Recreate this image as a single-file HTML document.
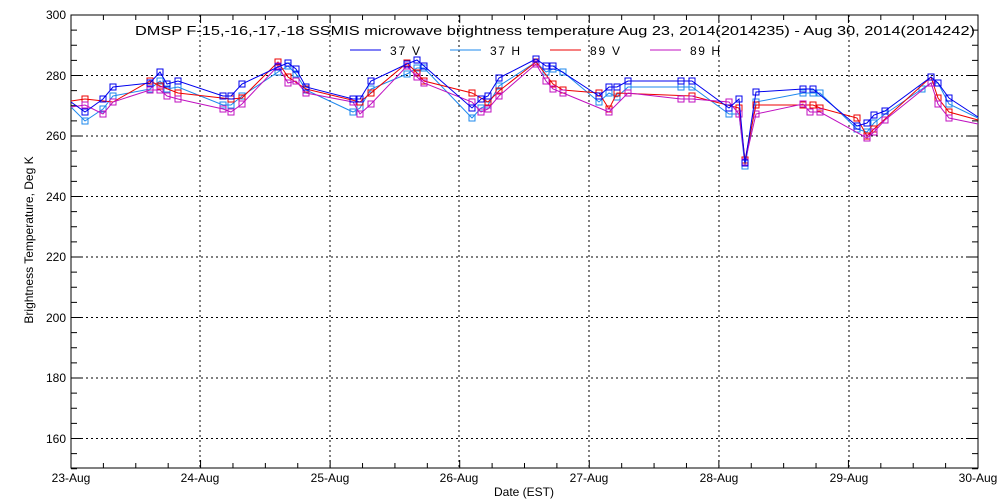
<!DOCTYPE html>
<html><head><style>
body{margin:0;background:#fff}
svg{display:block}
text{font-family:"Liberation Sans",sans-serif;font-size:12px;fill:#000}
</style></head><body>
<svg width="1000" height="500" xmlns="http://www.w3.org/2000/svg">
<rect width="1000" height="500" fill="#fff"/>
<g stroke="#000" stroke-dasharray="2,3" stroke-width="1">
<line x1="200" y1="15" x2="200" y2="468"/><line x1="330" y1="15" x2="330" y2="468"/>
<line x1="459" y1="15" x2="459" y2="468"/><line x1="589" y1="15" x2="589" y2="468"/>
<line x1="719" y1="15" x2="719" y2="468"/><line x1="849" y1="15" x2="849" y2="468"/>
<line x1="71" y1="75.5" x2="978" y2="75.5"/><line x1="71" y1="136" x2="978" y2="136"/>
<line x1="71" y1="196.5" x2="978" y2="196.5"/><line x1="71" y1="257" x2="978" y2="257"/>
<line x1="71" y1="317.5" x2="978" y2="317.5"/><line x1="71" y1="378" x2="978" y2="378"/>
<line x1="71" y1="438.5" x2="978" y2="438.5"/>
</g>
<g id="ticks" stroke="#000"></g>
<rect x="71" y="15" width="907" height="453" fill="none" stroke="#000"/>
<g id="series" fill="none" stroke-width="1"></g>
<g text-anchor="end">
<text x="66" y="19">300</text><text x="66" y="80">280</text><text x="66" y="140">260</text>
<text x="66" y="201">240</text><text x="66" y="261">220</text><text x="66" y="322">200</text>
<text x="66" y="382">180</text><text x="66" y="443">160</text>
</g>
<g text-anchor="middle">
<text x="71" y="482">23-Aug</text><text x="200" y="482">24-Aug</text><text x="330" y="482">25-Aug</text>
<text x="459" y="482">26-Aug</text><text x="589" y="482">27-Aug</text><text x="719" y="482">28-Aug</text>
<text x="849" y="482">29-Aug</text><text x="978" y="482">30-Aug</text>
<text x="524" y="496">Date (EST)</text>
</g>
<text x="135" y="35" textLength="840" lengthAdjust="spacingAndGlyphs" style="font-size:13px">DMSP F-15,-16,-17,-18 SSMIS microwave brightness temperature Aug 23, 2014(2014235) - Aug 30, 2014(2014242)</text>
<text transform="translate(33,240) rotate(-90)" text-anchor="middle">Brightness Temperature, Deg K</text>
<g style="font-size:13px">
<line x1="350" y1="50" x2="381" y2="50" stroke="#0000ee"/><text x="390" y="55" textLength="30">37 V</text>
<line x1="450" y1="50" x2="481" y2="50" stroke="#1e88ee"/><text x="490" y="55" textLength="30">37 H</text>
<line x1="550" y1="50" x2="581" y2="50" stroke="#ee0000"/><text x="590" y="55" textLength="30">89 V</text>
<line x1="650" y1="50" x2="681" y2="50" stroke="#c010c0"/><text x="690" y="55" textLength="30">89 H</text>
</g>
</svg>
<script>
var t=document.getElementById("ticks"),h="";
for(var i=0;i<=28;i++){var x=71+i*907/28;var L=(i%4==0)?8:5;h+='<line x1="'+x+'" y1="15" x2="'+x+'" y2="'+(15+L)+'"/><line x1="'+x+'" y1="468" x2="'+x+'" y2="'+(468-L)+'"/>';}
for(var v=150;v<=300;v+=5){var y=15+(300-v)*3.025;var L=(v%20==0)?10:6;h+='<line x1="71" y1="'+y+'" x2="'+(71+L)+'" y2="'+y+'"/><line x1="978" y1="'+y+'" x2="'+(978-L)+'" y2="'+y+'"/>';}
t.innerHTML=h;
var S=[
["#1e88ee",[[71,107],[85,121],[103,109],[113,96],[150,89],[160,81],[167,89],[178,87],[223,105],[231,105],[242,96],[278,72],[288,66],[296,74],[306,90],[353,112],[360,108],[371,89],[407,74],[417,68],[424,68],[472,118],[481,108],[488,105],[499,86],[536,62],[546,72],[553,69],[563,72],[599,102],[609,93],[617,97],[628,87],[681,87],[692,87],[729,114],[739,114],[745,166],[756,102],[803,93],[813,93],[820,93],[857,129],[867,132],[874,123],[885,114],[922,89],[931,83],[938,83],[949,104],[978,118]]],
["#ee0000",[[71,101],[85,99],[113,102],[150,81],[160,86],[178,93],[231,99],[242,98],[278,62],[288,77],[306,89],[360,102],[371,93],[407,63],[417,73],[424,81],[472,93],[488,102],[499,91],[536,62],[553,84],[563,90],[599,93],[609,109],[617,93],[692,96],[739,108],[745,160],[756,105],[803,105],[813,105],[820,108],[857,118],[867,136],[874,129],[931,77],[938,98],[949,112],[978,120]]],
["#c010c0",[[71,107],[85,105],[103,114],[113,102],[150,90],[160,90],[167,96],[178,99],[223,109],[231,112],[242,104],[278,66],[288,83],[296,81],[306,93],[353,102],[360,114],[371,104],[407,66],[417,77],[424,83],[472,102],[481,112],[488,109],[499,96],[536,64],[546,81],[553,89],[563,93],[609,112],[628,93],[681,99],[692,99],[729,102],[739,114],[745,162],[756,114],[803,104],[810,112],[820,112],[867,138],[874,132],[885,120],[931,83],[938,104],[949,118],[978,124]]],
["#0000ee",[[71,102],[85,112],[103,99],[113,87],[150,83],[160,72],[167,84],[178,81],[223,96],[231,96],[242,84],[278,67],[288,63],[296,69],[306,87],[353,99],[360,99],[371,81],[407,64],[417,60],[424,66],[472,108],[481,99],[488,96],[499,78],[536,59],[546,66],[553,66],[599,96],[609,87],[617,87],[628,81],[681,81],[692,81],[729,108],[739,99],[745,163],[756,92],[803,89],[813,89],[857,126],[867,123],[874,115],[885,111],[931,77],[938,83],[949,98],[978,117]]]
];
var g=document.getElementById("series"),o="";
S.forEach(function(s){var c=s[0],p=s[1];o+='<polyline stroke="'+c+'" points="'+p.map(function(q){return q.join(",")}).join(" ")+'"/>';
p.forEach(function(q,i){if(i==0||i==p.length-1)return;o+='<rect x="'+(q[0]-3)+'" y="'+(q[1]-3)+'" width="6" height="6" stroke="'+c+'"/>';});});
g.innerHTML=o;
</script>
</body></html>
